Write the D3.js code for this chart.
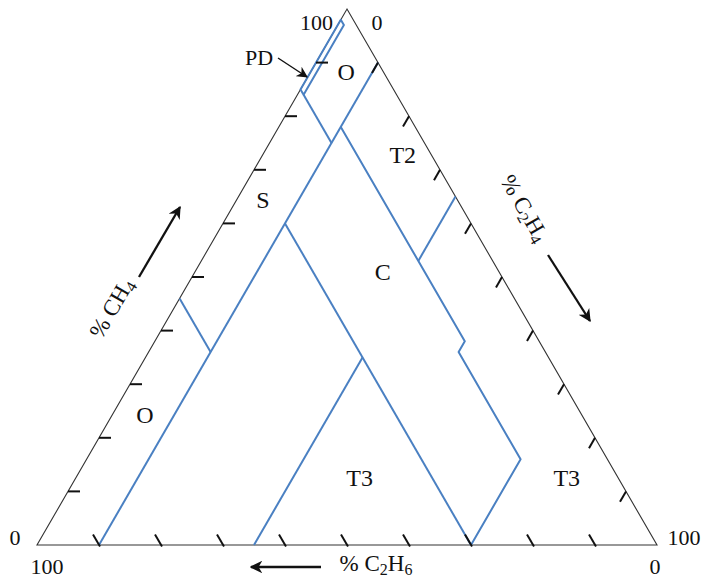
<!DOCTYPE html>
<html>
<head>
<meta charset="utf-8">
<script src="https://cdn.jsdelivr.net/npm/d3@7"></script>
<style>
  html, body { margin: 0; padding: 0; background: #fff; }
  svg text { font-family: "Liberation Serif", "DejaVu Serif", serif; fill: #111; }
</style>
</head>
<body>
<svg id="chart" width="702" height="580"></svg>
<script>
// ---------- data ----------
// tick values along each side (percent)
const ch4Ticks  = [10, 20, 30, 40, 50, 60, 70, 80, 90];
const c2h4Ticks = [10, 20, 30, 40, 50, 60, 70, 80, 90];
const c2h6Ticks = [10, 20, 30, 40, 50, 60, 70, 80, 90];

// zone boundaries, each point given as [%C2H4, %C2H6] (CH4 = 100 - C2H4 - C2H6)
const pdStrip      = [[0, 2], [1, 2], [1, 15], [0, 15]];
const oTopBound    = [[1, 15], [10, 15]];
const c2h4_10Line  = [[10, 0], [10, 90]];
const oLeftBound   = [[0, 54], [10, 54]];
const cRightBound  = [[10, 12], [50, 12], [50, 14], [70, 14], [70, 30]];
const t2t3Bound    = [[35, 0], [35, 12]];
const c2h6_30Line  = [[10, 30], [70, 30]];
const sT3Bound     = [[35, 30], [35, 65]];
const boundaries = [pdStrip, oTopBound, c2h4_10Line, oLeftBound, cRightBound, t2t3Bound, c2h6_30Line, sT3Bound];

// zone names with their location [%C2H4, %C2H6]
const zoneNames = ["O", "T2", "S", "C", "O", "T3", "T3"];
const zoneAt    = [[5.7, 6], [22.6, 4.6], [4.3, 31.4], [30.3, 18.8], [5.3, 70.5], [45.8, 41.7], [79.2, 8.3]];

// ---------- layout ----------
const svg = d3.select("#chart");
const side = 620, height = 536;
const BL = { x: 37, y: 545 };
const sx = d3.scaleLinear().domain([0, 100]).range([0, side]);
const sy = d3.scaleLinear().domain([0, 100]).range([0, height]);
function toXY(b, c) {           // b = %C2H4, c = %C2H6
  const a = 100 - b - c;        // %CH4
  return [BL.x + sx(b) + sx(a) / 2, BL.y - sy(a)];
}
const blue = "#4a80c2";

// arrow markers
const defs = svg.append("defs");
defs.append("marker").attr("id", "arr").attr("viewBox", "0 0 10 10")
  .attr("refX", 9).attr("refY", 5).attr("markerWidth", 5.5).attr("markerHeight", 5.5)
  .attr("orient", "auto").attr("markerUnits", "strokeWidth")
  .append("path").attr("d", "M0,0 L10,5 L0,10 L3,5 Z").attr("fill", "#111");
defs.append("marker").attr("id", "arrS").attr("viewBox", "0 0 10 10")
  .attr("refX", 9).attr("refY", 5).attr("markerWidth", 8).attr("markerHeight", 8)
  .attr("orient", "auto").attr("markerUnits", "strokeWidth")
  .append("path").attr("d", "M0,0 L10,5 L0,10 L3,5 Z").attr("fill", "#111");

// triangle outline
const corners = [toXY(0, 0), toXY(100, 0), toXY(0, 100)];
svg.append("path")
  .attr("d", d3.line()(corners) + "Z")
  .attr("fill", "none").attr("stroke", "#333").attr("stroke-width", 1.1);

// zone boundaries
const line = d3.line().x(d => toXY(d[0], d[1])[0]).y(d => toXY(d[0], d[1])[1]);
svg.selectAll("path.zone").data(boundaries).enter().append("path")
  .attr("class", "zone")
  .attr("d", (d, i) => line(d) + (i === 0 ? "Z" : ""))
  .attr("fill", "none").attr("stroke", blue).attr("stroke-width", 2)
  .attr("stroke-linejoin", "round");

// ticks
const tl = 12, c60 = 0.5, s60 = Math.sqrt(3) / 2;
const tickG = svg.append("g").attr("stroke", "#111").attr("stroke-width", 2);
ch4Ticks.forEach(t => {
  const p = toXY(0, 100 - t);
  tickG.append("line").attr("x1", p[0]).attr("y1", p[1]).attr("x2", p[0] + tl).attr("y2", p[1]);
});
c2h4Ticks.forEach(t => {
  const p = toXY(t, 0);
  tickG.append("line").attr("x1", p[0]).attr("y1", p[1]).attr("x2", p[0] - tl * c60).attr("y2", p[1] + tl * s60);
});
c2h6Ticks.forEach(t => {
  const p = toXY(100 - t, t);
  tickG.append("line").attr("x1", p[0] + 1).attr("y1", p[1] + 1.5).attr("x2", p[0] - tl * c60).attr("y2", p[1] - tl * s60);
});

// corner labels
const fs = 22;
function txt(x, y, s, anchor, size) {
  return svg.append("text").attr("x", x).attr("y", y).attr("text-anchor", anchor || "middle")
    .attr("font-size", size || fs).text(s);
}
const apex = toXY(0, 0), cornerBL = toXY(0, 100), cornerBR = toXY(100, 0);
txt(apex[0] - 14, apex[1] + 21, "100", "end");
txt(apex[0] + 30, apex[1] + 21, "0", "middle");
txt(cornerBL[0] - 22, cornerBL[1], "0", "middle");
txt(cornerBL[0] + 10, cornerBL[1] + 29, "100", "middle");
txt(cornerBR[0] + 27, cornerBR[1], "100", "middle");
txt(cornerBR[0] - 2, cornerBR[1] + 29, "0", "middle");

// zone labels
zoneNames.forEach((n, i) => {
  const p = toXY(zoneAt[i][0], zoneAt[i][1]);
  txt(p[0], p[1] + 8, n, "middle", 24);
});

// PD label + arrow
txt(259, 65, "PD", "middle");
svg.append("line").attr("x1", 278).attr("y1", 58).attr("x2", 307).attr("y2", 77)
  .attr("stroke", "#111").attr("stroke-width", 1.4).attr("marker-end", "url(#arrS)");

// axis titles
function title(x, y, rot, base, sub, tail) {
  const t = svg.append("text").attr("transform", `translate(${x},${y}) rotate(${rot})`)
    .attr("text-anchor", "middle").attr("font-size", 23);
  t.append("tspan").text("% " + base);
  t.append("tspan").attr("font-size", 16).attr("dy", 4).text(sub);
  if (tail) {
    t.append("tspan").attr("dy", -4).text("H");
    t.append("tspan").attr("font-size", 16).attr("dy", 4).text(tail);
  }
}
title(118, 312, -60, "CH", "4");
title(518, 212, 60, "C", "2", "4");
title(376, 571, 0, "C", "2", "6");

const arrowG = svg.append("g").attr("stroke", "#111").attr("stroke-width", 2.3);
arrowG.append("line").attr("x1", 139).attr("y1", 277).attr("x2", 180).attr("y2", 207).attr("marker-end", "url(#arr)");
arrowG.append("line").attr("x1", 548).attr("y1", 255).attr("x2", 590).attr("y2", 321).attr("marker-end", "url(#arr)");
arrowG.append("line").attr("x1", 321).attr("y1", 567).attr("x2", 251).attr("y2", 567).attr("marker-end", "url(#arr)");
</script>
</body>
</html>
